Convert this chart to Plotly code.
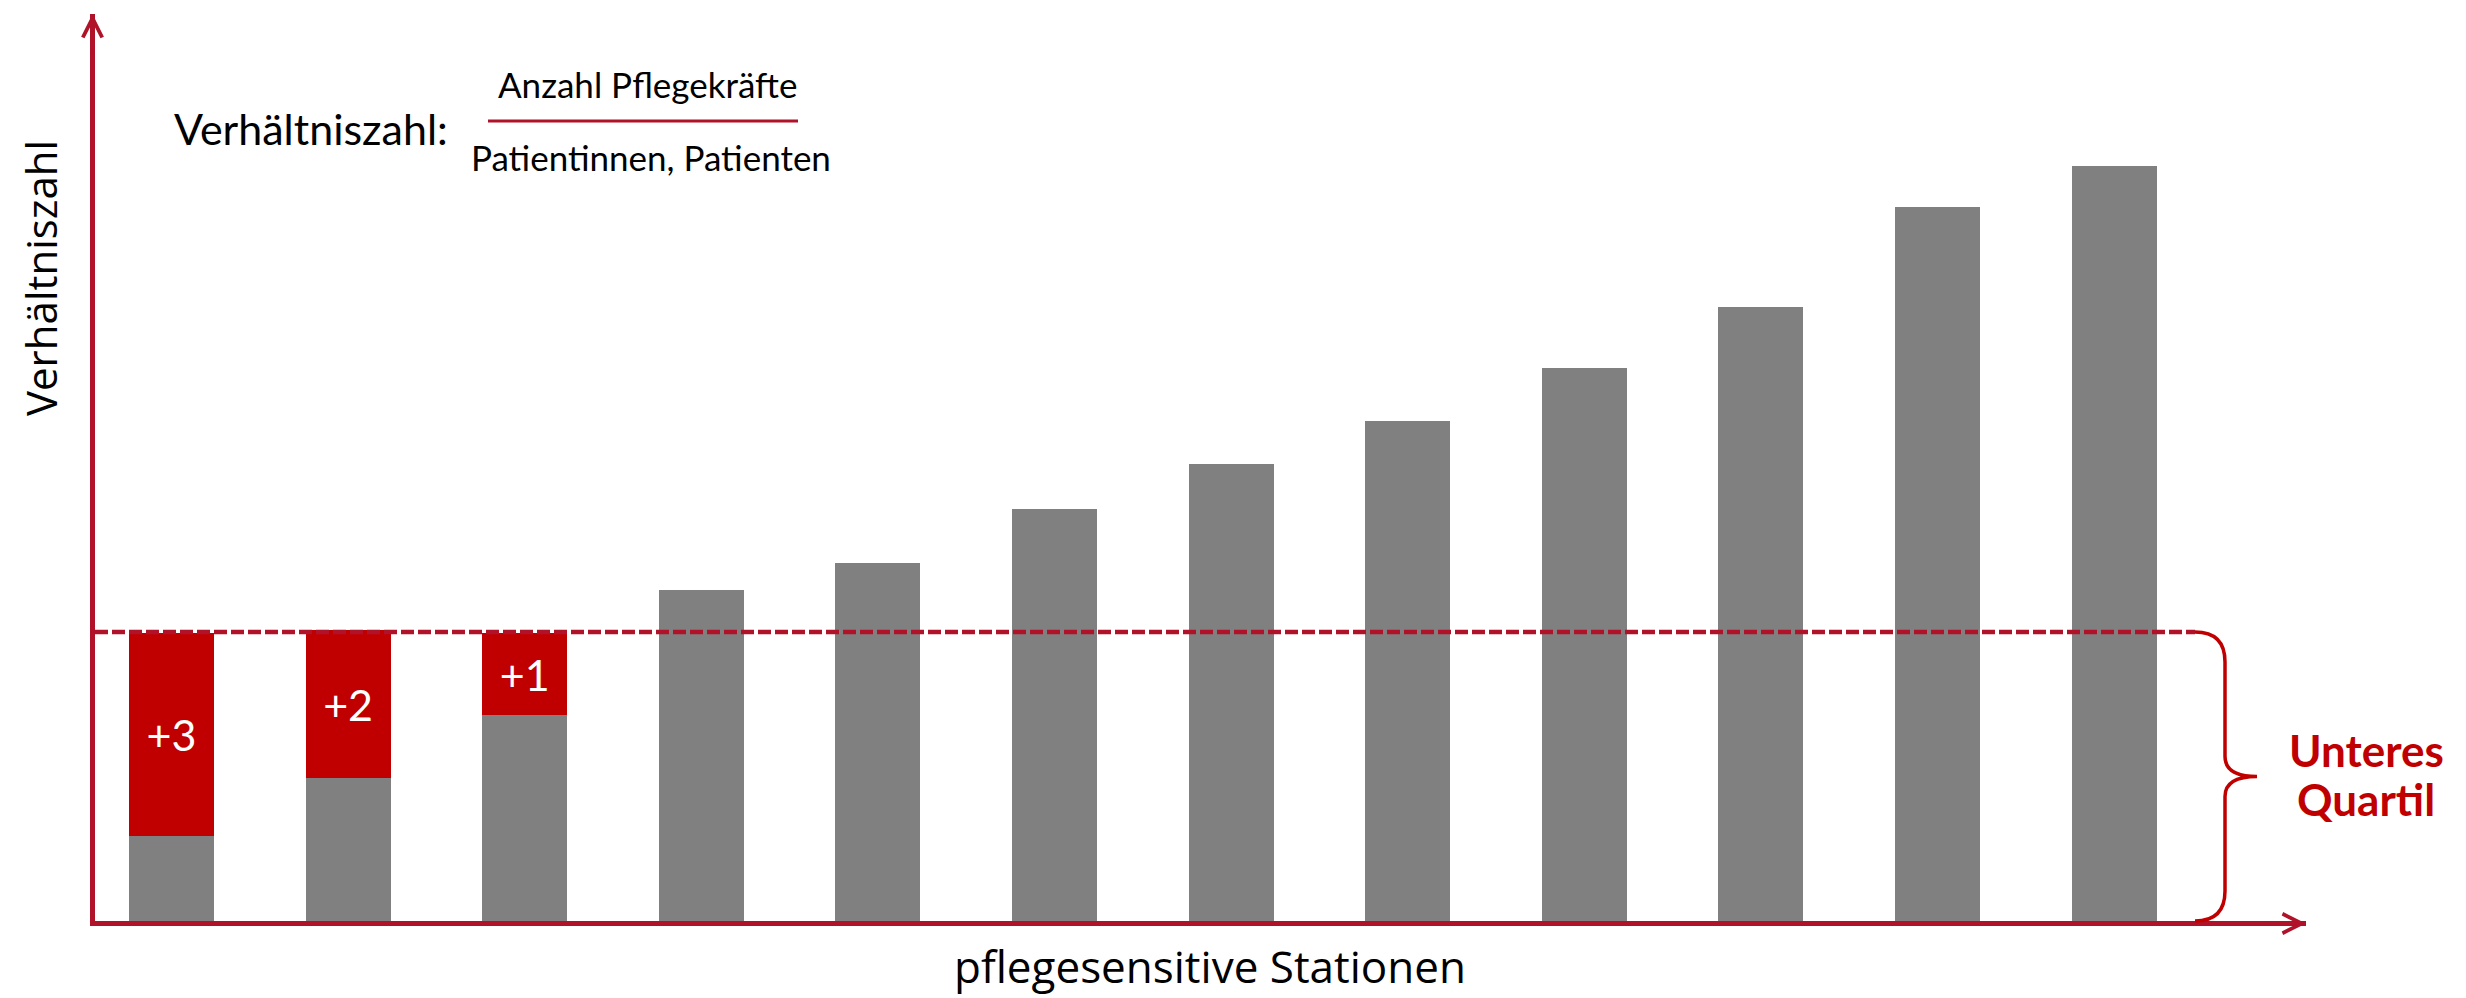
import plotly.graph_objects as go

# Verhältniszahl je pflegesensitiver Station (aufsteigend sortiert)
stationen = [f"Station {i}" for i in range(1, 13)]
verhaeltniszahl = [0.85, 1.43, 2.06, 3.31, 3.58, 4.12, 4.57, 5.00, 5.53, 6.14, 7.14, 7.55]
# zusätzliche Pflegekräfte bis zum unteren Quartil
zusatz = [2.03, 1.48, 0.82, None, None, None, None, None, None, None, None, None]
zusatz_text = ["+3", "+2", "+1", "", "", "", "", "", "", "", "", ""]
unteres_quartil = 2.89

W, H = 2466, 998
AXIS_RED = "#AF1229"
BAR_RED = "#C00000"
GREY = "#808080"
FONT_TXT = "Lato"
FONT_AX = "Open Sans"

# plot area in canvas pixels
L, R, T, B = 95, 2306, 14, 921
PX_PER_UNIT = 100.0
FIRST_CENTER, STEP = 171.5, 176.6


def px(x):
    return (x - L) / (R - L)


def py(y):
    return (B - y) / (B - T)


fig = go.Figure()
fig.add_trace(go.Bar(
    x=stationen, y=verhaeltniszahl, marker=dict(color=GREY, line=dict(width=0)),
    hoverinfo="skip",
))
fig.add_trace(go.Bar(
    x=stationen, y=zusatz, marker=dict(color=BAR_RED, line=dict(width=0)),
    text=zusatz_text, textposition="inside", insidetextanchor="middle",
    textangle=0, constraintext="none",
    textfont=dict(family=FONT_TXT, size=43, color="white"),
    hoverinfo="skip",
))

y_top = (B - T) / PX_PER_UNIT
q_paper = unteres_quartil / y_top

shapes = [
    # unteres Quartil
    dict(type="line", xref="paper", yref="y", x0=0, x1=px(2195),
         y0=unteres_quartil, y1=unteres_quartil, layer="above",
         line=dict(color=AXIS_RED, width=4.5, dash="13px,4px")),
    # Bruchstrich
    dict(type="line", xref="paper", yref="paper", x0=px(488), x1=px(798),
         y0=py(121), y1=py(121), line=dict(color=AXIS_RED, width=3)),
]

# geschweifte Klammer vom Quartil bis zur Achse
xa, xv, xt = px(2195), px(2225), px(2257)
r = 30 / (B - T)
rm = 20 / (B - T)
mid = q_paper / 2
brace = (
    f"M {xa},{q_paper} Q {xv},{q_paper} {xv},{q_paper - r} "
    f"L {xv},{mid + rm} Q {xv},{mid} {xt},{mid} "
    f"Q {xv},{mid} {xv},{mid - rm} "
    f"L {xv},{r} Q {xv},0 {xa},0"
)
shapes.append(dict(type="path", xref="paper", yref="paper", path=brace,
                   line=dict(color=BAR_RED, width=3.5)))

annotations = [
    dict(xref="paper", yref="paper", x=px(172), y=py(128), xanchor="left", yanchor="middle",
         text="Verhältniszahl:", showarrow=False,
         font=dict(family=FONT_TXT, size=43, color="black")),
    dict(xref="paper", yref="paper", x=px(647), y=py(84), xanchor="center", yanchor="middle",
         text="Anzahl Pflegekräfte", showarrow=False,
         font=dict(family=FONT_TXT, size=35, color="black")),
    dict(xref="paper", yref="paper", x=px(651), y=py(157), xanchor="center", yanchor="middle",
         text="Patientinnen, Patienten", showarrow=False,
         font=dict(family=FONT_TXT, size=35, color="black")),
    dict(xref="paper", yref="paper", x=px(2366), y=py(750), xanchor="center", yanchor="middle",
         text="<b>Unteres</b>", showarrow=False,
         font=dict(family=FONT_TXT, size=44, color=BAR_RED)),
    dict(xref="paper", yref="paper", x=px(2366), y=py(799), xanchor="center", yanchor="middle",
         text="<b>Quartil</b>", showarrow=False,
         font=dict(family=FONT_TXT, size=44, color=BAR_RED)),
    # Achsentitel
    dict(xref="paper", yref="paper", x=px(40), y=py(278), xanchor="center", yanchor="middle",
         text="Verhältniszahl", textangle=-90, showarrow=False,
         font=dict(family=FONT_AX, size=42, color="black")),
    dict(xref="paper", yref="paper", x=px(1210), y=py(966), xanchor="center", yanchor="middle",
         text="pflegesensitive Stationen", showarrow=False,
         font=dict(family=FONT_AX, size=44, color="black")),
    # Pfeilspitzen der Achsen
    dict(xref="paper", yref="paper", x=1, y=0, yshift=-2.5, text="", showarrow=True,
         ax=-40, ay=0, arrowhead=5, arrowwidth=5, arrowsize=0.76, arrowcolor=AXIS_RED),
    dict(xref="paper", yref="paper", x=0, y=1, xshift=-2.5, text="", showarrow=True,
         ax=0, ay=40, arrowhead=5, arrowwidth=5, arrowsize=0.76, arrowcolor=AXIS_RED),
]

axis_common = dict(showline=True, linecolor=AXIS_RED, linewidth=5, showgrid=False,
                   zeroline=False, showticklabels=False, ticks="", fixedrange=True)

fig.update_layout(
    width=W, height=H,
    margin=dict(l=L, r=W - R, t=T, b=H - B, pad=0),
    paper_bgcolor="white", plot_bgcolor="white",
    barmode="stack", bargap=1 - 85 / STEP, showlegend=False,
    xaxis=dict(type="category", range=[(L - FIRST_CENTER) / STEP, (R - FIRST_CENTER) / STEP],
               **axis_common),
    yaxis=dict(range=[0, y_top], **axis_common),
    shapes=shapes, annotations=annotations,
)

fig.write_html("out.html", config=dict(displayModeBar=False))
